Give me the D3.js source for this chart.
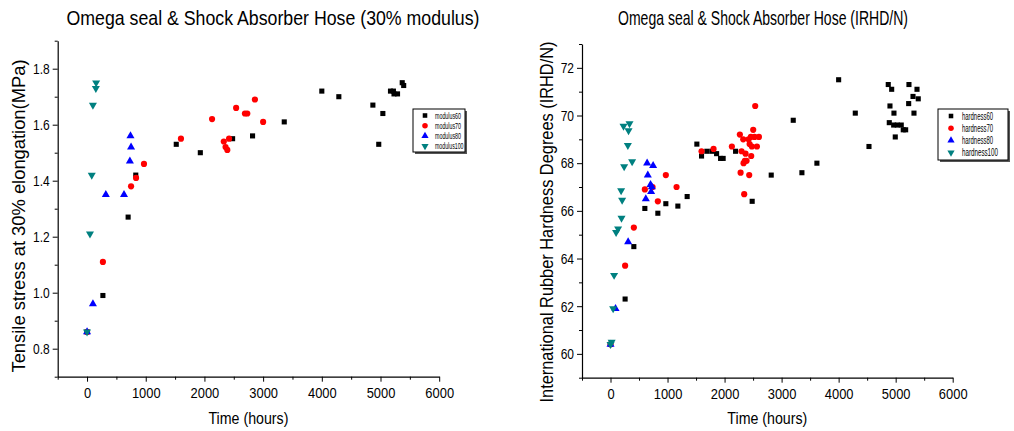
<!DOCTYPE html>
<html>
<head>
<meta charset="utf-8">
<script src="https://cdn.jsdelivr.net/npm/d3@7"></script>
<style>
  body { margin: 0; background: #fff; }
  svg { display: block; }
  text { font-family: 'Liberation Sans', Arial, sans-serif; fill: #000; }
</style>
</head>
<body>
<div id="chart"></div>
<script>
// [hours, MPa]
const modulus60 = [[0,0.86],[270,0.99],[700,1.27],[830,1.42],[1520,1.53],[1930,1.50],[2480,1.55],[2820,1.56],
  [3360,1.61],[4000,1.72],[4290,1.70],[4870,1.67],[4970,1.53],[5040,1.64],[5170,1.72],[5220,1.72],
  [5230,1.71],[5290,1.71],[5370,1.75],[5395,1.74]];
const modulus70 = [[0,0.86],[270,1.11],[750,1.38],[835,1.41],[970,1.46],[1600,1.55],[2130,1.62],[2330,1.54],
  [2360,1.52],[2390,1.51],[2420,1.55],[2540,1.66],[2690,1.64],[2730,1.64],[2860,1.69],[3000,1.61]];
const modulus80 = [[0,0.86],[100,0.96],[320,1.35],[630,1.35],[730,1.47],[750,1.52],[740,1.56]];
const modulus100 = [[0,0.86],[50,1.21],[80,1.42],[100,1.67],[150,1.73],[155,1.75]];

// [hours, IRHD]
const hardness60 = [[0,60.4],[256,62.3],[409,64.5],[602,66.1],[830,65.9],[970,66.3],[1181,66.2],[1344,66.6],
  [1514,68.8],[1596,68.3],[1689,68.5],[1777,68.5],[1860,68.4],[1930,68.2],[1975,68.2],[2193,68.5],
  [2484,66.4],[2818,67.5],[3204,69.8],[3356,67.6],[3619,68.0],[4000,71.5],[4292,70.1],[4532,68.7],
  [4870,71.3],[4930,71.1],[4900,70.4],[4970,70.1],[4888,69.7],[4965,69.6],[5028,69.6],[5098,69.6],
  [4993,69.1],[5133,69.4],[5175,69.4],[5233,71.3],[5374,71.1],[5304,70.8],[5396,70.7],[5228,70.5],[5321,70.1]];
const hardness70 = [[0,60.4],[256,63.7],[409,65.3],[602,66.9],[737,67.0],[830,66.4],[970,67.5],[1158,67.0],
  [1596,68.5],[1807,68.6],[2128,68.7],[2268,69.2],[2298,68.5],[2327,69.0],[2333,68.0],[2356,68.1],
  [2386,68.1],[2281,67.6],[2344,66.7],[2368,68.4],[2421,69.0],[2432,67.5],[2439,68.8],[2461,69.1],
  [2467,68.3],[2479,68.7],[2502,69.4],[2526,69.1],[2537,70.4],[2567,68.7],[2602,69.1]];
const hardness80 = [[0,60.4],[88,61.9],[309,64.7],[619,66.5],[642,68.0],[654,67.5],[702,67.1],[712,66.8],
  [724,67.0],[747,67.9]];
const hardness100 = [[0,60.4],[20,60.5],[46,61.9],[63,63.3],[98,65.1],[133,65.25],[193,65.7],[186,66.85],
  [204,66.45],[239,67.86],[379,68.07],[304,68.75],[316,69.37],[228,69.56],[333,69.66]];

const xTicks = [0, 1000, 2000, 3000, 4000, 5000, 6000];
const xMinor = [-500, 500, 1500, 2500, 3500, 4500, 5500];
const modTicks = [0.8, 1.0, 1.2, 1.4, 1.6, 1.8];
const modMinor = [0.7, 0.9, 1.1, 1.3, 1.5, 1.7, 1.9];
const hardTicks = [60, 62, 64, 66, 68, 70, 72];
const hardMinor = [59, 61, 63, 65, 67, 69, 71, 73];

const seriesStyle = [
  {shape: d3.symbolSquare, size: 26, color: "#000000", rot: 0},
  {shape: d3.symbolCircle, size: 30, color: "#ff0000", rot: 0},
  {shape: d3.symbolTriangle, size: 28, color: "#0000ff", rot: 0},
  {shape: d3.symbolTriangle, size: 28, color: "#008080", rot: 180}
];

const svg = d3.select("#chart").append("svg")
  .attr("width", 1014)
  .attr("height", 431);

// the original uses a narrow face; squeeze text horizontally
function squeeze(sel, factor) {
  sel.each(function() {
    const w = this.getComputedTextLength();
    d3.select(this).attr("textLength", w * factor).attr("lengthAdjust", "spacingAndGlyphs");
  });
}
function fitTo(sel, width) {
  sel.attr("textLength", width).attr("lengthAdjust", "spacingAndGlyphs");
}

function drawPanel(cfg) {
  const x = d3.scaleLinear().domain([-500, 6000]).range(cfg.xRange);
  const y = d3.scaleLinear().domain(cfg.yDomain).range(cfg.yRange);
  const g = svg.append("g");

  // minor ticks first, then major ones with labels
  g.append("g")
    .attr("transform", `translate(0,${cfg.yRange[0]})`)
    .call(d3.axisBottom(x).tickValues(xMinor).tickSize(3).tickFormat(""))
    .call(a => a.select(".domain").remove());
  g.append("g")
    .attr("transform", `translate(${cfg.xRange[0]},0)`)
    .call(d3.axisLeft(y).tickValues(cfg.yMinor).tickSize(3).tickFormat(""))
    .call(a => a.select(".domain").remove());

  const xa = g.append("g")
    .attr("transform", `translate(0,${cfg.yRange[0]})`)
    .call(d3.axisBottom(x).tickValues(xTicks).tickSize(5).tickSizeOuter(0).tickFormat(d3.format("d")));
  xa.selectAll("text").attr("font-size", 15).attr("y", 11).call(squeeze, 0.86);

  const ya = g.append("g")
    .attr("transform", `translate(${cfg.xRange[0]},0)`)
    .call(d3.axisLeft(y).tickValues(cfg.yTicks).tickSize(5).tickSizeOuter(0).tickFormat(cfg.yFormat));
  ya.selectAll("text").attr("font-size", 15).attr("x", -8).call(squeeze, 0.8);

  g.selectAll(".domain").attr("stroke", "#000").attr("stroke-width", 1.2);
  g.selectAll(".tick line").attr("stroke", "#000");

  // points
  cfg.series.forEach((data, i) => {
    const s = seriesStyle[i];
    g.append("g").selectAll("path")
      .data(data)
      .enter().append("path")
      .attr("d", d3.symbol().type(s.shape).size(s.size))
      .attr("transform", d => `translate(${x(d[0])},${y(d[1])}) rotate(${s.rot})`)
      .attr("fill", s.color);
  });

  // titles
  svg.append("text")
    .attr("x", cfg.titleX).attr("y", 25)
    .attr("text-anchor", "middle")
    .attr("font-size", 21)
    .text(cfg.title)
    .call(fitTo, cfg.titleW);

  svg.append("text")
    .attr("x", d3.mean(cfg.xRange)).attr("y", 424)
    .attr("text-anchor", "middle")
    .attr("font-size", 17)
    .text("Time (hours)")
    .call(fitTo, 80);

  svg.append("text")
    .attr("transform", `translate(${cfg.yTitleX},${cfg.yTitleY}) rotate(-90)`)
    .attr("text-anchor", "middle")
    .attr("font-size", 18)
    .text(cfg.yTitle)
    .call(fitTo, cfg.yTitleW);

  // legend box with shadow
  const L = cfg.legend;
  svg.append("rect")
    .attr("x", L.x + 2).attr("y", L.y + 2)
    .attr("width", L.w).attr("height", L.h)
    .attr("fill", "#555");
  svg.append("rect")
    .attr("x", L.x).attr("y", L.y)
    .attr("width", L.w).attr("height", L.h)
    .attr("fill", "#fff").attr("stroke", "#000").attr("stroke-width", 1);

  cfg.names.forEach((name, i) => {
    const s = seriesStyle[i];
    const cy = L.y + L.pad + i * L.step;
    svg.append("path")
      .attr("d", d3.symbol().type(s.shape).size(s.size * 0.8))
      .attr("transform", `translate(${L.x + L.sx},${cy}) rotate(${s.rot})`)
      .attr("fill", s.color);
    svg.append("text")
      .attr("x", L.x + L.tx).attr("y", cy + L.fs * 0.36)
      .attr("font-size", L.fs)
      .text(name)
      .call(fitTo, L.widths[i]);
  });
}

drawPanel({
  xRange: [57.7, 439.2],
  yDomain: [0.7, 1.9],
  yRange: [376.7, 40.7],
  yTicks: modTicks,
  yMinor: modMinor,
  yFormat: d3.format(".1f"),
  series: [modulus60, modulus70, modulus80, modulus100],
  names: ["modulus60", "modulus70", "modulus80", "modulus100"],
  title: "Omega seal & Shock Absorber Hose (30% modulus)",
  titleX: 273, titleW: 413,
  yTitle: "Tensile stress at 30% elongation(MPa)",
  yTitleX: 25, yTitleY: 216, yTitleW: 313,
  legend: {x: 413, y: 109, w: 52, h: 43, pad: 6.5, step: 10.2, sx: 12, tx: 22, fs: 9,
           widths: [26, 26, 26, 28.5]}
});

drawPanel({
  xRange: [582, 952.7],
  yDomain: [59, 73],
  yRange: [377.7, 44],
  yTicks: hardTicks,
  yMinor: hardMinor,
  yFormat: d3.format("d"),
  series: [hardness60, hardness70, hardness80, hardness100],
  names: ["hardness60", "hardness70", "hardness80", "hardness100"],
  title: "Omega seal & Shock Absorber Hose (IRHD/N)",
  titleX: 763, titleW: 290,
  yTitle: "International Rubber Hardness Degrees (IRHD/N)",
  yTitleX: 553, yTitleY: 222, yTitleW: 361,
  legend: {x: 938, y: 109, w: 70, h: 51, pad: 7, step: 12.2, sx: 13, tx: 24, fs: 10,
           widths: [31, 31, 31, 36]}
});
</script>
</body>
</html>
